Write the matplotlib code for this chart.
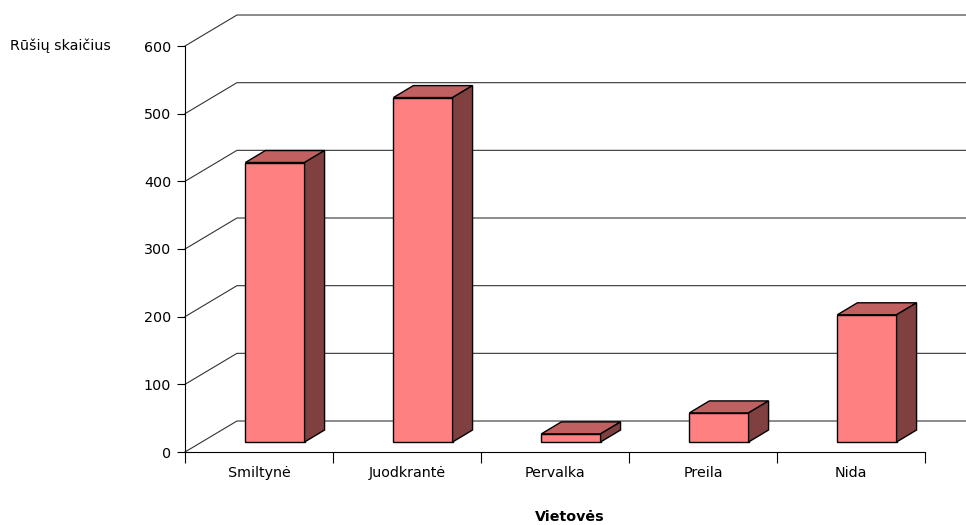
import matplotlib
matplotlib.use('Agg')
import matplotlib.pyplot as plt
from matplotlib.patches import Polygon

plt.rcParams['font.family'] = ['DejaVu Sans']

places = ["Smiltynė", "Juodkrantė", "Pervalka", "Preila", "Nida"]
species = [413, 509, 12, 43, 188]
y_ticks = [0, 100, 200, 300, 400, 500, 600]

# oblique projection offsets, in data units (x: categories, y: values)
wall_dx, wall_dy = 0.351, 45.8
front_dx, front_dy = 0.108, 14.8
back_dx, back_dy = 0.243, 32.5
bar_w = 0.4

face_col = "#FF8080"
top_col = "#C06060"
side_col = "#804040"
fs = 10.3

fig = plt.figure(figsize=(9.66, 5.25), dpi=100)
W, H = 966, 525
ax = fig.add_axes([185 / W, (H - 452) / H, (W - 185) / W, (452 - 15) / H])
ax.set_xlim(0, (W - 185) / 148)
ax.set_ylim(0, (452 - 15) / (406 / 600))

# back wall gridlines
for v in y_ticks:
    ax.plot([0, wall_dx, ax.get_xlim()[1]], [v, v + wall_dy, v + wall_dy],
            color="#333333", lw=0.8, zorder=1, clip_on=False)

# 3d bars
for i, v in enumerate(species):
    x0 = i + 0.5 - bar_w / 2 + front_dx
    x1 = x0 + bar_w
    yb = front_dy
    yt = front_dy + v
    ddx = back_dx - front_dx
    ddy = back_dy - front_dy
    front = Polygon([(x0, yb), (x1, yb), (x1, yt), (x0, yt)], closed=True,
                    facecolor=face_col, edgecolor="black", lw=1, zorder=3)
    top = Polygon([(x0, yt), (x1, yt), (x1 + ddx, yt + ddy), (x0 + ddx, yt + ddy)],
                  closed=True, facecolor=top_col, edgecolor="black", lw=1, zorder=3)
    side = Polygon([(x1, yb), (x1 + ddx, yb + ddy), (x1 + ddx, yt + ddy), (x1, yt)],
                   closed=True, facecolor=side_col, edgecolor="black", lw=1, zorder=3)
    for p in (front, top, side):
        ax.add_patch(p)

for s in ["top", "right"]:
    ax.spines[s].set_visible(False)
ax.spines["left"].set_bounds(0, 600)
ax.spines["bottom"].set_bounds(0, len(places))
ax.spines["left"].set_linewidth(0.8)
ax.spines["bottom"].set_linewidth(0.8)

ax.set_yticks(y_ticks)
ax.set_yticklabels([str(t) for t in y_ticks], fontsize=fs)
ax.set_xticks(range(len(places) + 1))
ax.set_xticklabels([])
ax.set_xticks([i + 0.5 for i in range(len(places))], minor=True)
ax.set_xticklabels(places, minor=True, fontsize=fs)
ax.tick_params(axis="x", which="minor", length=0, pad=10)
ax.tick_params(axis="x", which="major", length=8, width=0.8, direction="out")
ax.tick_params(axis="y", length=6, width=0.8, direction="out", pad=4)

fig.text(10 / W, 1 - 46 / H, "Rūšių skaičius", fontsize=fs, va="center", ha="left")
fig.text(570 / W, 1 - 517 / H, "Vietovės", fontsize=fs, fontweight="bold",
         va="center", ha="center")

fig.savefig("out.png", dpi=100)
